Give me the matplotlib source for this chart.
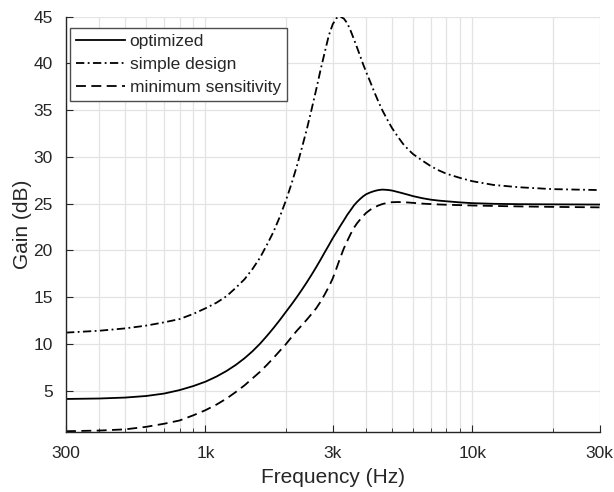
import matplotlib
matplotlib.use("Agg")
import matplotlib.pyplot as plt
from matplotlib.ticker import NullFormatter

#Frequencies (Hz) where the curves were read
freq = [300, 400, 500, 600, 700, 800, 900, 1000, 1100, 1200, 1300, 1400, 1500, 1600,
        1700, 1800, 1900, 2000, 2100, 2200, 2300, 2400, 2500, 2600, 2700, 2800, 2900,
        3000, 3100, 3200, 3300, 3400, 3500, 3600, 3700, 3800, 3900, 4000, 4150, 4300,
        4450, 4600, 4800, 5000, 5250, 5500, 5750, 6000, 6500, 7000, 7500, 8000, 9000,
        10000, 12000, 15000, 20000, 30000]

#Gain of each design (dB)
optimized = [4.1, 4.15, 4.25, 4.42, 4.68, 5.05, 5.48, 5.95, 6.5, 7.1, 7.75, 8.45, 9.2, 10.0,
             10.85, 11.7, 12.55, 13.4, 14.2, 15.0, 15.8, 16.6, 17.4, 18.2, 19.0, 19.8, 20.55,
             21.3, 21.95, 22.6, 23.2, 23.8, 24.3, 24.8, 25.18, 25.5, 25.78, 26.0, 26.2, 26.35,
             26.45, 26.5, 26.47, 26.4, 26.25, 26.1, 25.95, 25.8, 25.58, 25.42, 25.32, 25.25, 25.13,
             25.05, 24.98, 24.94, 24.92, 24.9]
simple_design = [11.2, 11.4, 11.65, 11.95, 12.3, 12.65, 13.2, 13.8, 14.4, 15.1, 16.0, 16.9, 18.0, 19.2,
                 20.6, 22.0, 23.6, 25.3, 27.1, 29.0, 31.0, 33.0, 35.1, 37.2, 39.3, 41.2, 43.0,
                 44.2, 44.85, 45.0, 44.8, 44.3, 43.5, 42.6, 41.7, 40.8, 39.9, 39.1, 38.0, 36.9,
                 35.9, 35.0, 34.0, 33.1, 32.2, 31.4, 30.8, 30.3, 29.6, 29.0, 28.55, 28.2, 27.75,
                 27.4, 27.0, 26.75, 26.55, 26.45]
min_sensitivity = [0.65, 0.72, 0.85, 1.12, 1.45, 1.8, 2.35, 2.9, 3.5, 4.15, 4.85, 5.55, 6.3, 7.0,
                   7.75, 8.5, 9.25, 9.95, 10.7, 11.4, 12.0, 12.6, 13.2, 13.8, 14.5, 15.3, 16.1,
                   17.0, 18.1, 19.2, 20.2, 21.0, 21.75, 22.4, 22.9, 23.3, 23.68, 24.0, 24.35, 24.6,
                   24.8, 24.95, 25.08, 25.15, 25.17, 25.15, 25.12, 25.08, 25.0, 24.95, 24.91, 24.88, 24.84,
                   24.8, 24.75, 24.7, 24.65, 24.6]

#Axis ticks
x_ticks = [300, 1000, 3000, 10000, 30000]
x_tick_labels = ["300", "1k", "3k", "10k", "30k"]
y_ticks = [5, 10, 15, 20, 25, 30, 35, 40, 45]

plt.rcParams["font.family"] = ["Liberation Sans", "DejaVu Sans"]
text_color = "#262626"

fig = plt.figure(figsize=(6.14, 4.92), dpi=100)
ax = fig.add_axes([0.1075, 0.1226, 0.8689, 0.8435])

#Plot the three curves
ax.plot(freq, optimized, color="black", linewidth=1.3, linestyle="-", label="optimized")
ax.plot(freq, simple_design, color="black", linewidth=1.3, linestyle=(0, (4.6, 1.9, 1.0, 1.9)),
        label="simple design")
ax.plot(freq, min_sensitivity, color="black", linewidth=1.3, linestyle=(0, (5.5, 3.0)),
        label="minimum sensitivity")

ax.set_xscale("log")
ax.set_xlim(300, 30000)
ax.set_ylim(0.6, 45)
ax.set_xticks(x_ticks)
ax.set_xticklabels(x_tick_labels)
ax.xaxis.set_minor_formatter(NullFormatter())
ax.set_yticks(y_ticks)

#Grid like the original
ax.grid(True, which="major", color="#e3e3e3", linewidth=0.9)
ax.grid(True, which="minor", axis="x", color="#e3e3e3", linewidth=0.9)
ax.set_axisbelow(True)

for side in ["top", "right"]:
    ax.spines[side].set_visible(False)
for side in ["left", "bottom"]:
    ax.spines[side].set_color(text_color)
    ax.spines[side].set_linewidth(1.0)

ax.tick_params(which="both", direction="in", colors=text_color, labelsize=12.5)
ax.tick_params(axis="x", pad=10.5)
ax.tick_params(axis="y", pad=9.5)
ax.tick_params(which="major", length=5)
ax.tick_params(which="minor", length=3)

ax.set_xlabel("Frequency (Hz)", fontsize=15, color=text_color)
ax.set_ylabel("Gain (dB)", fontsize=15, color=text_color)
ax.xaxis.set_label_coords(0.5, -0.088)
ax.yaxis.set_label_coords(-0.063, 0.5)

leg = ax.legend(loc="upper left", bbox_to_anchor=(0.0075, 0.9735), borderaxespad=0,
                fontsize=12.5, handlelength=2.8, handletextpad=0.27, labelspacing=0.45,
                borderpad=0.36, fancybox=False, framealpha=1)
leg.get_frame().set_edgecolor("#4d4d4d")
leg.get_frame().set_linewidth(1.0)
for t in leg.get_texts():
    t.set_color(text_color)

fig.savefig("out.png", dpi=100)
